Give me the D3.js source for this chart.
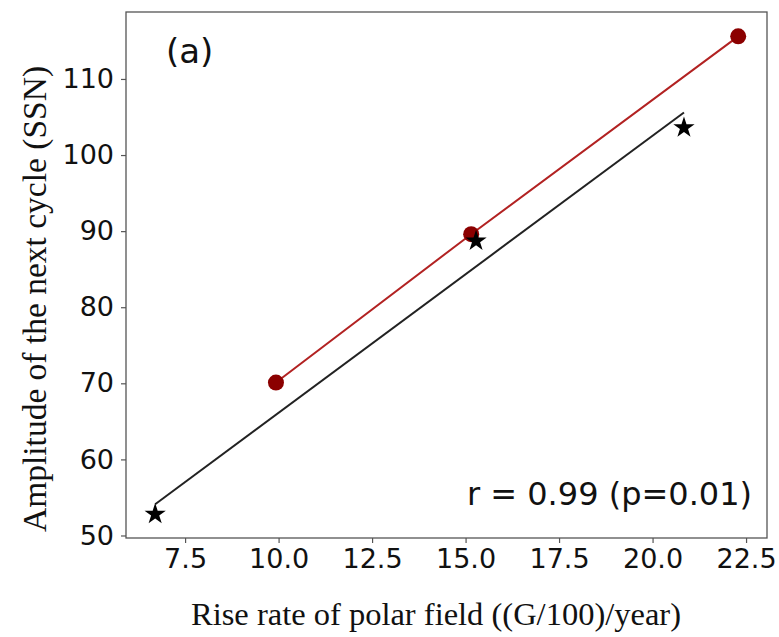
<!DOCTYPE html>
<html>
<head>
<meta charset="utf-8">
<script src="https://cdn.jsdelivr.net/npm/d3@7"></script>
<style>
  html, body { margin: 0; padding: 0; background: #fff; }
  svg { display: block; }
</style>
</head>
<body>
<svg id="chart" width="779" height="637"></svg>
<script>
// Rise rate of polar field (x) vs. amplitude of the next cycle (y)
const circleX = [9.93, 15.15, 22.29];
const circleY = [70.1, 89.6, 115.6];
const starX = [6.70, 15.28, 20.84];
const starY = [52.8, 88.7, 103.6];
// least-squares fit through the star points, endpoints
const fitX = [6.70, 20.84];
const fitY = [54.1, 105.6];
const xTicks = [7.5, 10.0, 12.5, 15.0, 17.5, 20.0, 22.5];
const yTicks = [50, 60, 70, 80, 90, 100, 110];

const svg = d3.select("#chart");
const plotL = 126, plotR = 767, plotT = 12, plotB = 538;

const x = d3.scaleLinear().domain([5.92, 23.06]).range([plotL, plotR]);
const y = d3.scaleLinear().domain([49.67, 118.8]).range([plotB, plotT]);

// frame
svg.append("rect")
  .attr("x", plotL).attr("y", plotT)
  .attr("width", plotR - plotL).attr("height", plotB - plotT)
  .attr("fill", "none").attr("stroke", "#555").attr("stroke-width", 1.3);

const tickFont = "'DejaVu Sans', sans-serif";

const xAxis = svg.append("g")
  .attr("transform", `translate(0,${plotB})`)
  .call(d3.axisBottom(x).tickValues(xTicks).tickFormat(d3.format(".1f")).tickSize(5).tickPadding(6));
const yAxis = svg.append("g")
  .attr("transform", `translate(${plotL},0)`)
  .call(d3.axisLeft(y).tickValues(yTicks).tickFormat(d3.format("d")).tickSize(5).tickPadding(7));

[xAxis, yAxis].forEach(g => {
  g.select(".domain").remove();
  g.selectAll(".tick line").attr("stroke", "#555").attr("stroke-width", 1.2);
  g.selectAll(".tick text").attr("fill", "#111")
    .style("font-family", tickFont).style("font-size", "27px");
});

// fit line
const line = d3.line().x(d => x(d[0])).y(d => y(d[1]));
svg.append("path")
  .datum(fitX.map((v, i) => [v, fitY[i]]))
  .attr("d", line).attr("fill", "none")
  .attr("stroke", "#222").attr("stroke-width", 2);

// red connecting line and circles
svg.append("path")
  .datum(circleX.map((v, i) => [v, circleY[i]]))
  .attr("d", line).attr("fill", "none")
  .attr("stroke", "#b22222").attr("stroke-width", 2);

svg.selectAll("circle.pt")
  .data(circleX.map((v, i) => [v, circleY[i]]))
  .join("circle")
  .attr("class", "pt")
  .attr("cx", d => x(d[0])).attr("cy", d => y(d[1]))
  .attr("r", 8).attr("fill", "#8b0000");

// star markers
const star = d3.symbol().type(d3.symbolStar).size(140);
svg.selectAll("path.star")
  .data(starX.map((v, i) => [v, starY[i]]))
  .join("path")
  .attr("class", "star")
  .attr("transform", d => `translate(${x(d[0])},${y(d[1])})`)
  .attr("d", star).attr("fill", "#000");

// annotations
svg.append("text")
  .attr("x", 166).attr("y", 63)
  .style("font-family", tickFont).style("font-size", "34px")
  .attr("fill", "#111").text("(a)");

svg.append("text")
  .attr("x", 752).attr("y", 505).attr("text-anchor", "end")
  .style("font-family", tickFont).style("font-size", "32px")
  .attr("fill", "#111").text("r = 0.99 (p=0.01)");

// axis titles
const serif = "'Liberation Serif', 'Times New Roman', serif";
svg.append("text")
  .attr("x", 436).attr("y", 625).attr("text-anchor", "middle")
  .style("font-family", serif).style("font-size", "32.5px")
  .attr("fill", "#111").text("Rise rate of polar field ((G/100)/year)");

svg.append("text")
  .attr("transform", "translate(46,299) rotate(-90)")
  .attr("text-anchor", "middle")
  .style("font-family", serif).style("font-size", "33.5px")
  .attr("fill", "#111").text("Amplitude of the next cycle (SSN)");
</script>
</body>
</html>
